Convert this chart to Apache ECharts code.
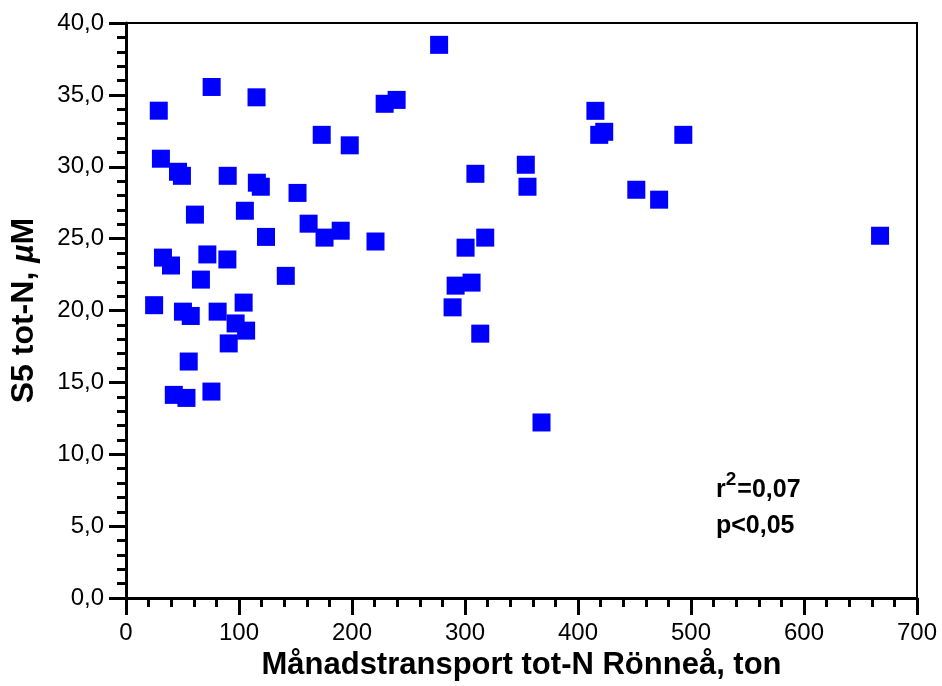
<!DOCTYPE html>
<html>
<head>
<meta charset="utf-8">
<script src="https://cdn.jsdelivr.net/npm/echarts@6/dist/echarts.min.js"></script>
<style>
  html, body { margin: 0; padding: 0; background: #fff; }
  #chart { width: 942px; height: 686px; }
</style>
</head>
<body>
<div id="chart"></div>
<script>
// Monthly tot-N transport (ton) in Rönneå vs. tot-N at station S5 (µM)
const transportTon = [
  29.0, 75.8, 115.5, 30.9, 46.0, 49.5, 90.0, 115.8, 119.3, 61.0,
  105.2, 151.8, 161.6, 173.2, 123.9, 32.7, 39.8, 72.0, 89.7, 66.3,
  141.4, 24.9, 50.4, 57.3, 81.1, 104.1, 97.0, 106.3, 90.9, 55.5,
  42.3, 53.5, 75.6, 277.1, 228.9, 239.5, 198.0, 415.4, 418.8, 423.2,
  309.2, 353.8, 355.3, 175.7, 190.0, 220.8, 317.9, 300.5, 305.8, 291.7,
  289.0, 313.5, 367.7, 493.2, 451.6, 471.8, 667.3
];
const totN_S5 = [
  33.9, 35.55, 34.83, 30.56, 29.65, 29.37, 29.37, 28.89, 28.61, 26.67,
  26.94, 28.18, 26.04, 32.22, 25.12, 23.68, 23.13, 23.9, 23.55, 22.15,
  22.41, 20.37, 19.92, 19.62, 19.92, 20.55, 19.1, 18.6, 17.71, 16.45,
  14.13, 13.92, 14.36, 38.48, 34.38, 34.65, 31.49, 33.89, 32.22, 32.43,
  29.51, 30.14, 28.61, 25.07, 25.55, 24.8, 25.07, 24.37, 21.94, 21.73,
  20.22, 18.39, 12.21, 32.22, 28.4, 27.71, 25.2
];

const xAxisRange = [0, 700];
const yAxisRange = [0, 40];
const xTitle = 'Månadstransport tot-N Rönneå, ton';
const yTitle = 'S5 tot-N, {mu|µ}M';
const statR2 = 'r{sup|2}=0,07';
const statP = 'p<0,05';

const points = transportTon.map((x, i) => [x, totN_S5[i]]);
const FONT = 'Liberation Sans, Arial, sans-serif';

const chart = echarts.init(document.getElementById('chart'), null, { renderer: 'canvas' });

chart.setOption({
  animation: false,
  backgroundColor: '#ffffff',
  grid: {
    left: 125, top: 23, width: 792, height: 576,
    show: true, borderColor: '#000', borderWidth: 2, backgroundColor: 'transparent'
  },
  xAxis: {
    type: 'value',
    min: xAxisRange[0], max: xAxisRange[1], interval: 100,
    name: xTitle,
    nameLocation: 'middle',
    nameGap: 52,
    nameTextStyle: { fontFamily: FONT, fontWeight: 'bold', fontSize: 31, color: '#000' },
    axisLine: { show: true, onZero: false, lineStyle: { color: '#000', width: 3 } },
    axisTick: { show: true, inside: false, length: 17, lineStyle: { color: '#000', width: 3 } },
    minorTick: { show: true, splitNumber: 5, length: 9, lineStyle: { color: '#000', width: 3 } },
    splitLine: { show: false },
    axisLabel: {
      fontFamily: FONT, fontSize: 24, color: '#000', margin: 23,
      formatter: v => String(v)
    }
  },
  yAxis: {
    type: 'value',
    min: yAxisRange[0], max: yAxisRange[1], interval: 5,
    name: yTitle,
    nameLocation: 'middle',
    nameGap: 86,
    nameTextStyle: {
      fontFamily: FONT, fontWeight: 'bold', fontSize: 32, color: '#000',
      rich: {
        mu: { fontFamily: FONT, fontWeight: 'bold', fontStyle: 'italic', fontSize: 32, color: '#000' }
      }
    },
    axisLine: { show: true, onZero: false, lineStyle: { color: '#000', width: 3 } },
    axisTick: { show: true, inside: false, length: 17, lineStyle: { color: '#000', width: 3 } },
    minorTick: { show: true, splitNumber: 5, length: 9, lineStyle: { color: '#000', width: 3 } },
    splitLine: { show: false },
    axisLabel: {
      fontFamily: FONT, fontSize: 24, color: '#000', margin: 22,
      formatter: v => v.toFixed(1).replace('.', ',')
    }
  },
  series: [{
    type: 'scatter',
    data: points,
    symbol: 'rect',
    symbolSize: 18,
    itemStyle: { color: '#0000ff', opacity: 1 },
    z: 3
  }],
  graphic: [
    {
      type: 'text',
      left: 716, top: 470,
      style: {
        text: statR2,
        fontFamily: FONT, fontWeight: 'bold', fontSize: 25, fill: '#000',
        rich: {
          sup: { fontFamily: FONT, fontWeight: 'bold', fontSize: 19, fill: '#000', padding: [0, 1, 22, 0] }
        }
      }
    },
    {
      type: 'text',
      left: 716, top: 514,
      style: {
        text: statP,
        fontFamily: FONT, fontWeight: 'bold', fontSize: 25, fill: '#000'
      }
    }
  ]
});
</script>
</body>
</html>
